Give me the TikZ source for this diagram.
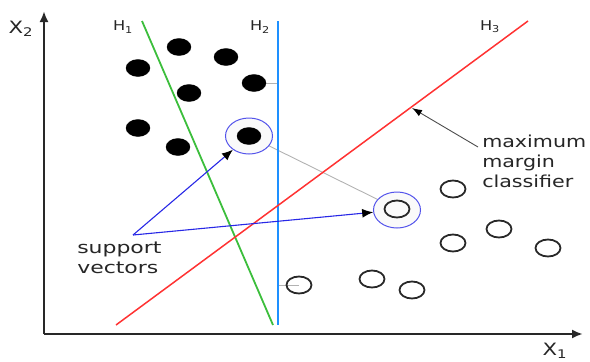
\documentclass[tikz,border=0pt]{standalone}
\usepackage{fontspec}
\setmainfont{DejaVu Sans}
\usetikzlibrary{arrows.meta,shapes.geometric}
\definecolor{hgreen}{RGB}{60,190,60}
\definecolor{hblue}{RGB}{30,144,255}
\definecolor{hred}{RGB}{255,50,50}
\definecolor{svblue}{RGB}{40,40,230}
\definecolor{axisgray}{RGB}{40,40,40}
\tikzset{
  dotfill/.style={ellipse,fill=black,draw=black,minimum width=24pt,minimum height=17pt,inner sep=0pt},
  dotopen/.style={ellipse,draw=axisgray,line width=1.8pt,minimum width=25pt,minimum height=17pt,inner sep=0pt},
  svring/.style={ellipse,draw=svblue!80,line width=1pt,fill=gray!4,minimum width=47pt,minimum height=36pt,inner sep=0pt},
  marginline/.style={draw=gray!60,line width=0.9pt},
  lbl/.style={font=\fontsize{16.5}{20}\selectfont,xscale=1.33,inner sep=0pt,text=black!85},
  hlbl/.style={font=\fontsize{13.5}{15}\selectfont,xscale=1.2,inner sep=0pt,text=black!85},
  axislbl/.style={font=\fontsize{17}{19}\selectfont,xscale=1.25,inner sep=0pt,text=black!85},
  svarrow/.style={draw=svblue,line width=1.1pt,-{Latex[length=11pt,width=9pt,color=black]}},
}
\begin{document}
\begin{tikzpicture}[x=1pt,y=-1pt]
\useasboundingbox (0,0) rectangle (590,362);
% coordinates
\coordinate (O) at (44,334);
\coordinate (ytop) at (44,11);
\coordinate (xend) at (583,334);
\coordinate (h1a) at (142,21);
\coordinate (h1b) at (273,325);
\coordinate (h2a) at (278,21);
\coordinate (h2b) at (278,325);
\coordinate (h3a) at (116,325);
\coordinate (h3b) at (528,21);
\coordinate (apex) at (133,235);
\coordinate (h2m1) at (278,83);
\coordinate (h2m2) at (278,285);
\coordinate (h3pt) at (412,108);
\coordinate (mmcstart) at (478,147);
% margin lines (behind)
\draw[marginline] (254,83) -- (h2m1);
\draw[marginline] (249,136) -- (397,209);
\draw[marginline] (299,285) -- (h2m2);
% support vector rings
\node[svring] (ring1) at (249,136) {};
\node[svring] (ring2) at (397,210) {};
% hyperplanes
\draw[hgreen,line width=1.8pt] (h1a) -- (h1b);
\draw[hblue,line width=1.8pt] (h2a) -- (h2b);
\draw[hred,line width=1.5pt] (h3a) -- (h3b);
% axes
\draw[axisgray,line width=2.4pt,-{Latex[length=11pt,width=9pt]}] (O) -- (ytop);
\draw[axisgray,line width=2.4pt,-{Latex[length=11pt,width=9pt]}] (O) -- (xend);
% filled dots
\node[dotfill] (b1) at (179,47) {};
\node[dotfill] (b2) at (226,57) {};
\node[dotfill] (b3) at (138,68) {};
\node[dotfill] (b4) at (254,83) {};
\node[dotfill] (b5) at (189,93) {};
\node[dotfill] (b6) at (138,128) {};
\node[dotfill] (b7) at (178,147) {};
\node[dotfill] (b8) at (249,136) {};
% open circles
\node[dotopen] (w1) at (453,189) {};
\node[dotopen] (w2) at (397,209) {};
\node[dotopen] (w3) at (499,229) {};
\node[dotopen] (w4) at (453,243) {};
\node[dotopen] (w5) at (548,248) {};
\node[dotopen] (w6) at (299,285) {};
\node[dotopen] (w7) at (372,279) {};
\node[dotopen] (w8) at (412,290) {};
% support vector arrows
\draw[svarrow] (apex) -- (ring1);
\draw[svarrow] (apex) -- (ring2);
% classifier arrow
\draw[draw=black!70,line width=0.9pt,-{Latex[length=10pt,width=7pt,color=black]}] (mmcstart) -- (h3pt);
% labels
\node[lbl,align=left,anchor=west] (sv) at (77,258) {support\\vectors};
\node[lbl,xscale=0.94,align=left,anchor=west] (mmc) at (482,161) {maximum\\margin\\classifier};
\node[hlbl] (lh1) at (123,27) {H\textsubscript{1}};
\node[hlbl] (lh2) at (260,27) {H\textsubscript{2}};
\node[hlbl] (lh3) at (490,27) {H\textsubscript{3}};
\node[axislbl] (lx2) at (21,29) {X\textsubscript{2}};
\node[axislbl] (lx1) at (555,351) {X\textsubscript{1}};
\end{tikzpicture}
\end{document}
